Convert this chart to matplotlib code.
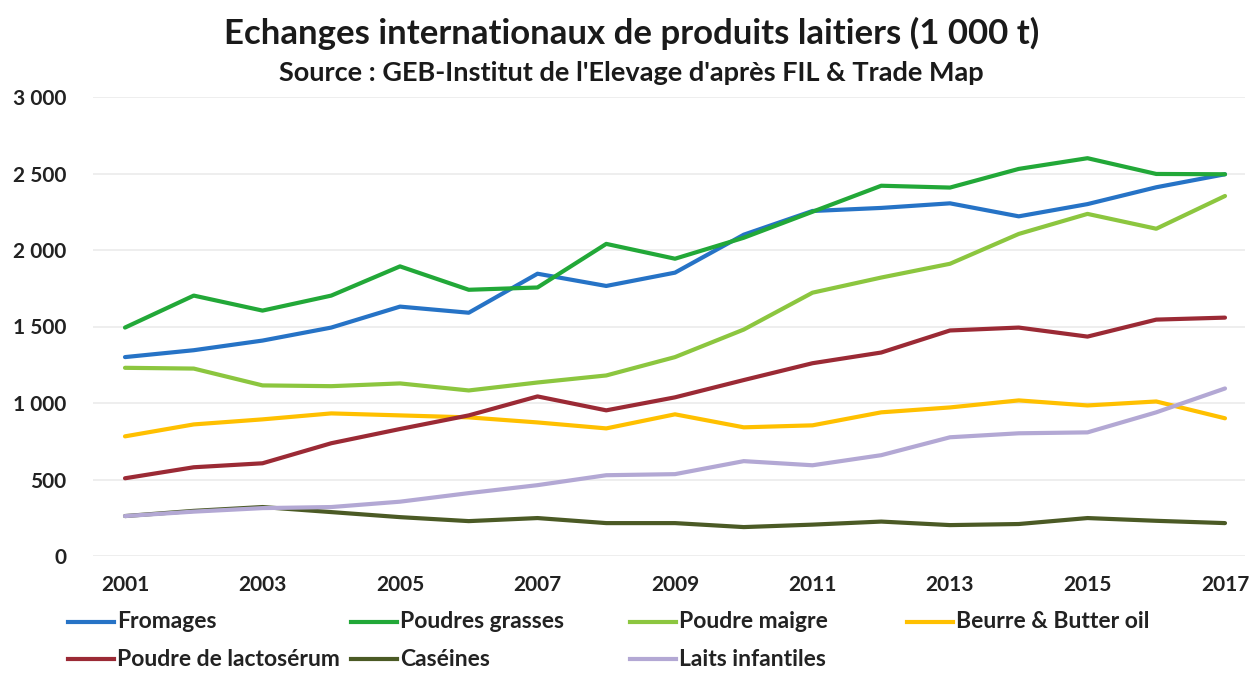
import matplotlib
matplotlib.use("Agg")
import matplotlib.pyplot as plt
from matplotlib.lines import Line2D
from matplotlib.ticker import FuncFormatter

plt.rcParams['font.family'] = ['Lato', 'DejaVu Sans']

years = list(range(2001, 2018))

fromages = [1300, 1345, 1408, 1493, 1630, 1590, 1845, 1765, 1852, 2100, 2255, 2275, 2305, 2220, 2300, 2410, 2495]
poudres_grasses = [1493, 1702, 1604, 1702, 1893, 1740, 1755, 2040, 1943, 2080, 2250, 2420, 2408, 2530, 2600, 2497, 2495]
poudre_maigre = [1230, 1225, 1115, 1110, 1128, 1082, 1134, 1180, 1300, 1480, 1721, 1820, 1910, 2105, 2236, 2139, 2353]
beurre = [782, 860, 893, 932, 919, 906, 873, 834, 926, 841, 854, 939, 971, 1017, 984, 1010, 900]
lactoserum = [508, 580, 606, 737, 830, 919, 1043, 952, 1037, 1150, 1260, 1330, 1474, 1493, 1434, 1545, 1558]
caseines = [261, 295, 320, 287, 254, 228, 248, 215, 215, 189, 205, 225, 202, 209, 248, 230, 215]
laits_infantiles = [261, 290, 313, 320, 355, 411, 463, 528, 535, 620, 593, 659, 776, 802, 808, 939, 1095]

series_names = ["Fromages", "Poudres grasses", "Poudre maigre", "Beurre & Butter oil",
                "Poudre de lactosérum", "Caséines", "Laits infantiles"]
series_values = [fromages, poudres_grasses, poudre_maigre, beurre,
                 lactoserum, caseines, laits_infantiles]
colors = ["#2673C6", "#22A838", "#8CC63F", "#FFC000", "#9B2A35", "#4B5A25", "#B3A8D4"]

y_ticks = [0, 500, 1000, 1500, 2000, 2500, 3000]
x_ticks = list(range(2001, 2018, 2))

fig = plt.figure(figsize=(12.5, 6.73), dpi=100)
W, H = 1250, 673

# axes spanning the gridline area
left_px, right_px = 93, 1245
bottom_px, top_px = 556, 97
ax = fig.add_axes([left_px / W, 1 - bottom_px / H, (right_px - left_px) / W, (bottom_px - top_px) / H])

px_per_year = (1225 - 125) / 16
ax.set_xlim(2001 - (125 - left_px) / px_per_year, 2017 + (right_px - 1225) / px_per_year)
ax.set_ylim(0, 3000)

for name, vals, c in zip(series_names, series_values, colors):
    ax.plot(years, vals, color=c, lw=3.0, solid_joinstyle='round', solid_capstyle='round', zorder=3)

ax.set_yticks(y_ticks)
ax.yaxis.set_major_formatter(FuncFormatter(lambda v, p: f"{int(v):,}".replace(",", " ")))
ax.set_xticks(x_ticks)
ax.grid(axis='y', color='#EBEBEB', lw=1.2, zorder=0)
for s in ax.spines.values():
    s.set_visible(False)
ax.tick_params(axis='both', length=0, labelsize=15, colors='#222222')
ax.tick_params(axis='y', pad=19)
ax.tick_params(axis='x', pad=14)
for lab in ax.get_xticklabels() + ax.get_yticklabels():
    lab.set_fontweight('bold')

fig.text(0.505, 1 - 33 / H, "Echanges internationaux de produits laitiers (1 000 t)",
         ha='center', va='center', fontsize=25, fontweight='bold', color='#1a1a1a')
fig.text(0.505, 1 - 73 / H, "Source : GEB-Institut de l'Elevage d'après FIL & Trade Map",
         ha='center', va='center', fontsize=19.5, fontweight='bold', color='#1a1a1a')

# legend entries laid out in two rows of four columns
col_x = [68, 351, 630, 907]
row_y = [622, 659]
legend_pos = [(col_x[0], row_y[0]), (col_x[1], row_y[0]), (col_x[2], row_y[0]), (col_x[3], row_y[0]),
              (col_x[0], row_y[1]), (col_x[1], row_y[1]), (col_x[2], row_y[1])]
for (lx, ly), name, c in zip(legend_pos, series_names, colors):
    fig.add_artist(Line2D([lx / W, (lx + 46) / W], [1 - ly / H, 1 - ly / H],
                          color=c, lw=3.0, transform=fig.transFigure))
    fig.text((lx + 49) / W, 1 - ly / H, name, ha='left', va='center',
             fontsize=16.5, fontweight='bold', color='#222222')

fig.savefig("out.png", dpi=100, facecolor='white')
